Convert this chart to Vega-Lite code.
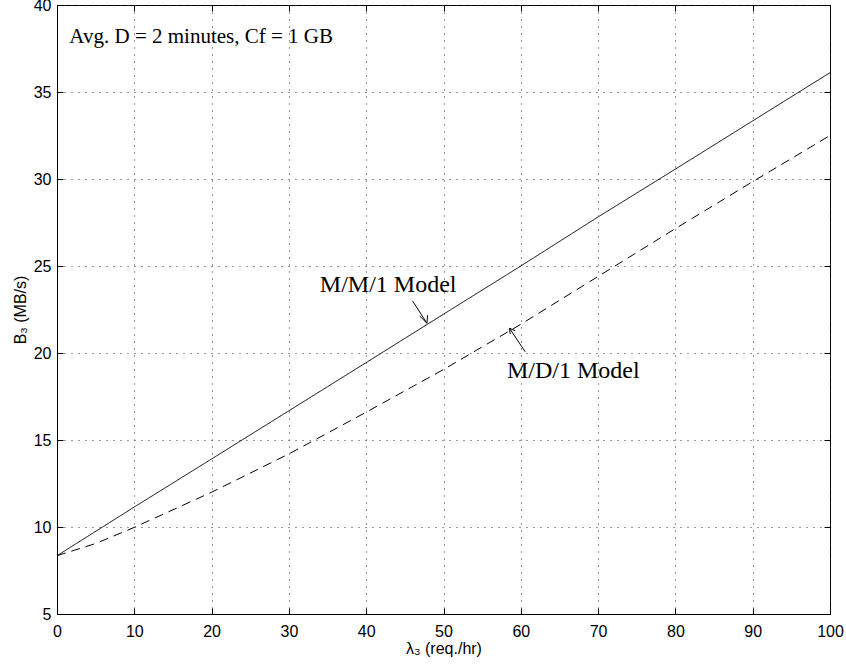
{
  "$schema": "https://vega.github.io/schema/vega-lite/v6.json",
  "width": 773,
  "height": 609,
  "autosize": {"type": "none"},
  "padding": {"left": 57, "top": 5, "right": 16, "bottom": 52},
  "background": "white",
  "config": {
    "view": {"stroke": "black", "strokeWidth": 1},
    "axis": {
      "domainColor": "black",
      "tickColor": "black",
      "labelColor": "black",
      "titleColor": "black",
      "labelFont": "Liberation Sans",
      "titleFont": "Liberation Sans",
      "labelFontSize": 16,
      "titleFontSize": 16,
      "titleFontWeight": "normal",
      "gridColor": "#333",
      "gridDash": [1, 6],
      "gridOpacity": 1,
      "gridWidth": 1
    }
  },
  "layer": [
    {
      "data": {
        "values": [
          {"lam": 0, "B": 8.35, "model": "M/M/1"},
          {"lam": 10, "B": 11.15, "model": "M/M/1"},
          {"lam": 20, "B": 13.91, "model": "M/M/1"},
          {"lam": 30, "B": 16.68, "model": "M/M/1"},
          {"lam": 40, "B": 19.45, "model": "M/M/1"},
          {"lam": 50, "B": 22.23, "model": "M/M/1"},
          {"lam": 60, "B": 25.0, "model": "M/M/1"},
          {"lam": 70, "B": 27.82, "model": "M/M/1"},
          {"lam": 80, "B": 30.57, "model": "M/M/1"},
          {"lam": 90, "B": 33.34, "model": "M/M/1"},
          {"lam": 100, "B": 36.11, "model": "M/M/1"},
          {"lam": 0, "B": 8.35, "model": "M/D/1"},
          {"lam": 5, "B": 9.05, "model": "M/D/1"},
          {"lam": 10, "B": 9.98, "model": "M/D/1"},
          {"lam": 20, "B": 12.0, "model": "M/D/1"},
          {"lam": 30, "B": 14.2, "model": "M/D/1"},
          {"lam": 40, "B": 16.6, "model": "M/D/1"},
          {"lam": 50, "B": 19.05, "model": "M/D/1"},
          {"lam": 60, "B": 21.65, "model": "M/D/1"},
          {"lam": 70, "B": 24.4, "model": "M/D/1"},
          {"lam": 80, "B": 27.15, "model": "M/D/1"},
          {"lam": 90, "B": 29.85, "model": "M/D/1"},
          {"lam": 100, "B": 32.5, "model": "M/D/1"}
        ]
      },
      "mark": {"type": "line", "color": "black", "strokeWidth": 1},
      "encoding": {
        "x": {
          "field": "lam", "type": "quantitative",
          "scale": {"domain": [0, 100], "nice": false, "zero": false},
          "axis": {
            "orient": "bottom",
            "values": [0, 10, 20, 30, 40, 50, 60, 70, 80, 90, 100],
            "grid": true,
            "tickSize": -6,
            "labelPadding": 15,
            "labelFlush": false,
            "labelOverlap": false,
            "title": "λ₃ (req./hr)",
            "titlePadding": 1
          }
        },
        "y": {
          "field": "B", "type": "quantitative",
          "scale": {"domain": [5, 40], "nice": false, "zero": false},
          "axis": {
            "orient": "left",
            "values": [5, 10, 15, 20, 25, 30, 35, 40],
            "grid": true,
            "tickSize": -6,
            "labelPadding": 12,
            "labelFlush": false,
            "labelOverlap": false,
            "title": "B₃ (MB/s)",
            "titlePadding": 5
          }
        },
        "detail": {"field": "model", "type": "nominal"},
        "strokeDash": {
          "field": "model", "type": "nominal",
          "scale": {"domain": ["M/M/1", "M/D/1"], "range": [[1, 0], [9, 6]]},
          "legend": null
        }
      }
    },
    {
      "data": {
        "values": [
          {"x1": 46.0, "y1": 22.99, "x2": 47.86, "y2": 21.71},
          {"x1": 46.9, "y1": 22.13, "x2": 47.86, "y2": 21.71},
          {"x1": 47.94, "y1": 22.18, "x2": 47.86, "y2": 21.71},
          {"x1": 60.57, "y1": 20.07, "x2": 58.54, "y2": 21.42},
          {"x1": 58.63, "y1": 21.09, "x2": 58.54, "y2": 21.42},
          {"x1": 59.28, "y1": 21.28, "x2": 58.54, "y2": 21.42}
        ]
      },
      "mark": {"type": "rule", "color": "black", "strokeWidth": 1},
      "encoding": {
        "x": {
          "field": "x1", "type": "quantitative",
          "axis": {
            "orient": "top",
            "values": [0, 10, 20, 30, 40, 50, 60, 70, 80, 90, 100],
            "grid": false, "labels": false, "title": null, "tickSize": -6, "domain": false
          }
        },
        "y": {
          "field": "y1", "type": "quantitative",
          "axis": {
            "orient": "right",
            "values": [5, 10, 15, 20, 25, 30, 35, 40],
            "grid": false, "labels": false, "title": null, "tickSize": -6, "domain": false
          }
        },
        "x2": {"field": "x2"},
        "y2": {"field": "y2"}
      }
    },
    {
      "data": {
        "values": [
          {"tx": 1.6, "ty": 37.83, "label": "Avg. D = 2 minutes, Cf = 1 GB", "size": 21},
          {"tx": 34.0, "ty": 23.52, "label": "M/M/1 Model", "size": 24},
          {"tx": 58.2, "ty": 18.55, "label": "M/D/1 Model", "size": 24}
        ]
      },
      "mark": {
        "type": "text", "align": "left", "baseline": "alphabetic",
        "font": "Liberation Serif", "color": "black"
      },
      "encoding": {
        "x": {"field": "tx", "type": "quantitative", "axis": null},
        "y": {"field": "ty", "type": "quantitative", "axis": null},
        "text": {"field": "label"},
        "size": {"field": "size", "type": "quantitative", "scale": null, "legend": null}
      }
    }
  ],
  "resolve": {"axis": {"x": "independent", "y": "independent"}}
}
